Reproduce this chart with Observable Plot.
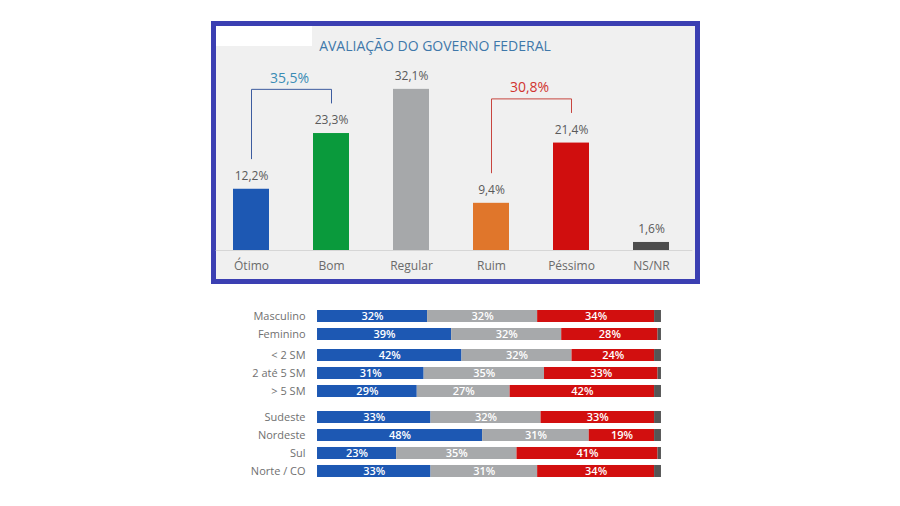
<!DOCTYPE html>
<html>
<head>
<meta charset="utf-8">
<script src="https://cdn.jsdelivr.net/npm/d3@7"></script>
<script src="https://cdn.jsdelivr.net/npm/@observablehq/plot@0.6"></script>
<style>
  html, body { margin: 0; padding: 0; background: #ffffff; }
  #page { position: relative; width: 900px; height: 506px; overflow: hidden; font-family: "Open Sans", sans-serif; }
  #frame { position: absolute; left: 211px; top: 21px; width: 489px; height: 263px; box-sizing: border-box;
           border: 5px solid #3b3fb2; background: #f0f0f0; }
  #patch { position: absolute; left: 216px; top: 26px; width: 96px; height: 20px; background: #ffffff; }
  #title { position: absolute; left: 435px; top: 36px; transform: translateX(-50%); white-space: nowrap;
           font-size: 14px; color: #3f78aa; }
  .abs { position: absolute; }
</style>
</head>
<body>
<div id="page">
  <div id="frame"></div>
  <div id="patch"></div>
  <div id="title">AVALIAÇÃO DO GOVERNO FEDERAL</div>
  <div id="top" class="abs" style="left:200px; top:20px;"></div>
  <div id="g0" class="abs" style="left:200px; top:306px;"></div>
  <div id="g1" class="abs" style="left:200px; top:345px;"></div>
  <div id="g2" class="abs" style="left:200px; top:407px;"></div>
</div>
<script>
// ---- Top chart data ----
const categories = ["Ótimo", "Bom", "Regular", "Ruim", "Péssimo", "NS/NR"];
const values = [12.2, 23.3, 32.1, 9.4, 21.4, 1.6];
const barColors = ["#1d58b3", "#0a9a3c", "#a6a8aa", "#e0762b", "#d00e0e", "#4d4d4d"];
const bracketPairs = [["Ótimo", "Bom"], ["Ruim", "Péssimo"]];
const bracketLineColors = ["#3d5c9f", "#c8453f"];
const bracketTextColors = ["#3a8cb4", "#d0342f"];

// ---- Bottom chart data ----
const groupRows = [
  ["Masculino", "Feminino"],
  ["< 2 SM", "2 até 5 SM", "> 5 SM"],
  ["Sudeste", "Nordeste", "Sul", "Norte / CO"]
];
const segments = ["Positiva", "Regular", "Negativa", "NS/NR"];
const positiva = [32, 39, 42, 31, 29, 33, 48, 23, 33];
const regular  = [32, 32, 32, 35, 27, 32, 31, 35, 31];
const negativa = [34, 28, 24, 33, 42, 33, 19, 41, 34];
const nsnr     = [2, 1, 2, 1, 2, 2, 2, 1, 2];
const segColors = ["#1d58b3", "#a7a9ab", "#d20f0f", "#555555"];

const fmt = v => v.toFixed(1).replace(".", ",") + "%";

// ---- Top chart ----
const bars = categories.map((c, i) => ({cat: c, value: values[i]}));
const valOf = c => values[categories.indexOf(c)];
const pad = 6, rise = 8.8;
const links = [];
const bracketLabels = [];
bracketPairs.forEach(([a, b], k) => {
  const va = valOf(a), vb = valOf(b);
  const top = Math.max(va, vb) + rise;
  links.push({x1: a, x2: a, y1: va + pad, y2: top, k});
  links.push({x1: a, x2: b, y1: top, y2: top, k});
  links.push({x1: b, x2: b, y1: vb + pad, y2: top, k});
  bracketLabels.push({x: a, y: top, text: fmt(va + vb), k});
});

const topPlot = Plot.plot({
  width: 500,
  height: 265,
  marginLeft: 8.7,
  marginRight: 7.7,
  marginTop: 29.2,
  marginBottom: 35,
  style: {background: "transparent", fontFamily: "Open Sans", fontSize: "12px", color: "#6a6a6a"},
  x: {domain: categories, paddingInner: 0.55, paddingOuter: 0.275, tickSize: 0, tickPadding: 11, label: null},
  y: {domain: [0, 40], axis: null},
  color: {domain: categories, range: barColors},
  marks: [
    Plot.ruleY([0], {stroke: "#d6d6d6", strokeWidth: 1, insetLeft: 7, insetRight: 0}),
    Plot.barY(bars, {x: "cat", y: "value", fill: "cat"}),
    Plot.text(bars, {x: "cat", y: "value", text: d => fmt(d.value), dy: -13, fill: "#5a5a5a", fontSize: 12}),
    Plot.link(links, {x1: "x1", x2: "x2", y1: "y1", y2: "y2", stroke: d => bracketLineColors[d.k], strokeWidth: 1}),
    Plot.text(bracketLabels, {x: "x", y: "y", text: "text", dx: 38, dy: -11, fontSize: 14, fill: d => bracketTextColors[d.k]})
  ]
});
document.getElementById("top").appendChild(topPlot);

// ---- Bottom chart ----
let offset = 0;
groupRows.forEach((rows, g) => {
  const data = [];
  rows.forEach((r, j) => {
    const i = offset + j;
    const vals = [positiva[i], regular[i], negativa[i], nsnr[i]];
    segments.forEach((s, k) => data.push({row: r, seg: s, value: vals[k]}));
  });
  offset += rows.length;
  const p = Plot.plot({
    width: 470,
    height: rows.length * 18.3,
    marginLeft: 117,
    marginRight: 9,
    marginTop: 0,
    marginBottom: 0,
    style: {background: "transparent", fontFamily: "Open Sans", fontSize: "11px", color: "#707070"},
    x: {domain: [0, 100], axis: null},
    y: {domain: rows, paddingInner: 0.36, paddingOuter: 0.18, tickSize: 0, tickPadding: 12, label: null},
    color: {domain: segments, range: segColors},
    marks: [
      Plot.barX(data, Plot.stackX({x: "value", y: "row", fill: "seg", order: segments})),
      Plot.text(data, Plot.stackX({x: "value", y: "row", z: "seg", order: segments,
        text: d => d.seg === "NS/NR" ? "" : d.value + "%", fill: "#ffffff", fontSize: 11, fontWeight: 600}))
    ]
  });
  document.getElementById("g" + g).appendChild(p);
});
</script>
</body>
</html>
